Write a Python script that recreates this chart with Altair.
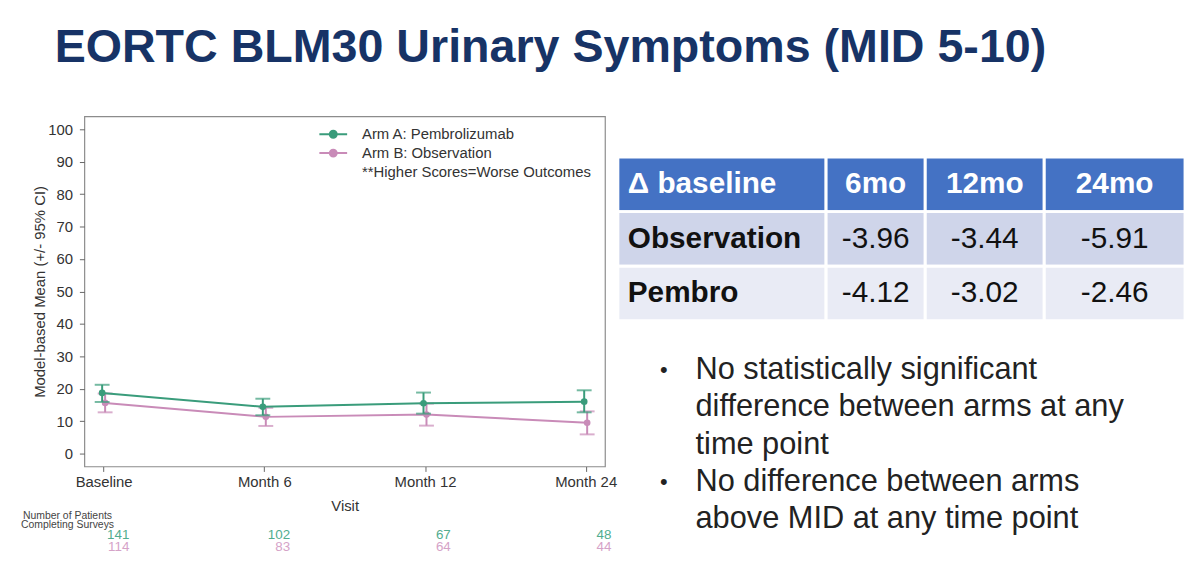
import altair as alt
import pandas as pd

FONT = "Liberation Sans"

# ---------------- data ----------------
visits = ["Baseline", "Month 6", "Month 12", "Month 24"]
arm_a = "Arm A: Pembrolizumab"
arm_b = "Arm B: Observation"
note = "**Higher Scores=Worse Outcomes"

a_mean = [18.7, 14.4, 15.5, 16.0]
a_lo = [15.9, 11.8, 12.3, 12.7]
a_hi = [21.2, 16.9, 18.8, 19.5]

b_mean = [15.6, 11.3, 12.0, 9.5]
b_lo = [12.7, 8.5, 8.6, 5.9]
b_hi = [18.5, 14.1, 15.4, 13.0]

counts_a = [141, 102, 67, 48]
counts_b = [114, 83, 64, 44]

table_cols = ["Δ baseline", "6mo", "12mo", "24mo"]
table_rows = ["Observation", "Pembro"]
obs_vals = ["-3.96", "-3.44", "-5.91"]
pem_vals = ["-4.12", "-3.02", "-2.46"]

bullet_lines = [
    "No statistically significant",
    "difference between arms at any",
    "time point",
    "No difference between arms",
    "above MID at any time point",
]
bullet_starts = [True, False, False, True, False]

title_text = "EORTC BLM30 Urinary Symptoms (MID 5-10)"

# ---------------- styles ----------------
GREEN = "#3a9c7b"
PINK = "#c98bb8"
GREEN_T = "#52ad8f"
PINK_T = "#d5a3c8"
NAVY = "#173366"
col_widths = [210, 100, 120, 142]

# ---------------- main plot ----------------
rows = []
for arm, m, lo, hi in [(arm_a, a_mean, a_lo, a_hi), (arm_b, b_mean, b_lo, b_hi)]:
    for v, mm, l, h in zip(visits, m, lo, hi):
        rows.append(dict(visit=v, arm=arm, mean=mm, lo=l, hi=h))
df = pd.DataFrame(rows)

xscale = alt.Scale(type="point", domain=visits, padding=0.12)
xaxis = alt.Axis(title="Visit", labelAngle=0, tickSize=5, labelPadding=3,
                 titlePadding=9, labelFontSize=15, titleFontSize=15)
yscale = alt.Scale(domain=[-4, 104], nice=False, zero=False)
yaxis = alt.Axis(title="Model-based Mean (+/- 95% CI)", values=list(range(0, 101, 10)),
                 tickSize=5, labelPadding=7, titlePadding=0,
                 labelFontSize=15, titleFontSize=15)
X = alt.X("visit:N", sort=visits, scale=xscale, axis=xaxis)

legend_path = "M-2,0L2,0M-0.5,0A0.5,0.5,0,1,1,0.5,0A0.5,0.5,0,1,1,-0.5,0Z"
fill_sig = (f"datum.value === '{arm_a}' ? '{GREEN}' : "
            f"(datum.value === '{arm_b}' ? '{PINK}' : 'transparent')")
legend = alt.Legend(
    title=None, orient="none", legendX=243, legendY=10,
    symbolType=legend_path, symbolSize=196, symbolStrokeWidth=2,
    symbolFillColor={"expr": fill_sig},
    labelFont=FONT, labelFontSize=15, labelColor="#333333", labelOffset=21,
    rowPadding=3, padding=0, labelLimit=400,
)
cscale = alt.Scale(domain=[arm_a, arm_b, note], range=[GREEN, PINK, "transparent"])


def arm_layers(arm, color, off):
    base = alt.Chart(df).transform_filter(alt.datum.arm == arm)
    rule = base.mark_rule(color=color, strokeWidth=2, xOffset=off).encode(
        x=X, y=alt.Y("lo:Q", scale=yscale, axis=yaxis), y2="hi:Q")
    cap_lo = base.mark_tick(color=color, size=15, thickness=2, xOffset=off).encode(
        x=X, y=alt.Y("lo:Q", scale=yscale, axis=yaxis))
    cap_hi = base.mark_tick(color=color, size=15, thickness=2, xOffset=off).encode(
        x=X, y=alt.Y("hi:Q", scale=yscale, axis=yaxis))
    line = base.mark_line(strokeWidth=2, xOffset=off).encode(
        x=X, y=alt.Y("mean:Q", scale=yscale, axis=yaxis),
        color=alt.Color("arm:N", scale=cscale, legend=legend))
    pts = base.mark_circle(color=color, size=45, opacity=1, xOffset=off).encode(
        x=X, y=alt.Y("mean:Q", scale=yscale, axis=yaxis))
    return [rule, cap_lo, cap_hi, line, pts]


main = alt.layer(*arm_layers(arm_b, PINK, 1.5), *arm_layers(arm_a, GREEN, -1.5)).properties(
    width=525, height=353,
    view=alt.ViewBackground(stroke="#8c8c8c", strokeWidth=1.2),
)

# ---------------- counts ----------------
crow = []
for arm, ns in [(arm_a, counts_a), (arm_b, counts_b)]:
    for v, n in zip(visits, ns):
        crow.append(dict(visit=v, arm=arm, n=n))
cdf = pd.DataFrame(crow)


def count_layer(arm, color):
    return alt.Chart(cdf).transform_filter(alt.datum.arm == arm).mark_text(
        color=color, align="right", dx=26, fontSize=13.5, font=FONT, baseline="middle"
    ).encode(
        x=alt.X("visit:N", sort=visits, scale=xscale, axis=None),
        y=alt.Y("arm:N", scale=alt.Scale(domain=[arm_a, arm_b]), axis=None),
        text="n:Q",
    )


counts = alt.layer(count_layer(arm_a, GREEN_T), count_layer(arm_b, PINK_T)).properties(
    width=525, height=24,
    title=alt.TitleParams(["Number of Patients", "Completing Surveys"], anchor="start",
                          align="center", dx=-17, fontSize=10.5, font=FONT,
                          color="#444444", fontWeight="normal", lineHeight=10,
                          offset=-13, baseline="bottom"),
)

left_col = alt.vconcat(main, counts, spacing=63, bounds="flush")

# ---------------- table ----------------
row_ids = ["header"] + table_rows
cells = []
edges = [0]
for w in col_widths:
    edges.append(edges[-1] + w)
for r, rid in enumerate(row_ids):
    for c in range(4):
        if rid == "header":
            txt = table_cols[c]
        elif c == 0:
            txt = rid
        else:
            txt = (obs_vals if rid == "Observation" else pem_vals)[c - 1]
        cells.append(dict(row=rid, col=c, x0=edges[c], x1=edges[c + 1],
                          xc=(edges[c] + edges[c + 1]) / 2, label=txt))
tdf = pd.DataFrame(cells)

TX = alt.Scale(domain=[0, edges[-1]], nice=False, zero=False)
# rows pushed to the bottom of a 206px view: 41px empty band on top, 3 rows of 55px
TY = alt.Y("row:N", sort=row_ids,
           scale=alt.Scale(domain=row_ids, paddingInner=0, paddingOuter=0.37273, align=1),
           axis=None)
tbase = alt.Chart(tdf)
fills = {"header": "#4472c4", "Observation": "#cfd5ea", "Pembro": "#e9ebf5"}
tlayers = []
for rid in row_ids:
    tlayers.append(tbase.transform_filter(alt.datum.row == rid).mark_rect(
        fill=fills[rid], stroke="white", strokeWidth=3).encode(
        x=alt.X("x0:Q", scale=TX, axis=None), x2="x1:Q", y=TY))
tlayers.append(tbase.transform_filter("datum.row == 'header' && datum.col == 0").mark_text(
    align="left", dx=10, color="white", fontWeight="bold", fontSize=30, font=FONT).encode(
    x=alt.X("x0:Q", scale=TX, axis=None), y=TY, text="label:N"))
tlayers.append(tbase.transform_filter("datum.row == 'header' && datum.col > 0").mark_text(
    align="center", color="white", fontWeight="bold", fontSize=30, font=FONT).encode(
    x=alt.X("xc:Q", scale=TX, axis=None), y=TY, text="label:N"))
tlayers.append(tbase.transform_filter("datum.row != 'header' && datum.col == 0").mark_text(
    align="left", dx=10, color="#111111", fontWeight="bold", fontSize=30, font=FONT).encode(
    x=alt.X("x0:Q", scale=TX, axis=None), y=TY, text="label:N"))
tlayers.append(tbase.transform_filter("datum.row != 'header' && datum.col > 0").mark_text(
    align="center", color="#111111", fontSize=30, font=FONT).encode(
    x=alt.X("xc:Q", scale=TX, axis=None), y=TY, text="label:N"))
table = alt.layer(*tlayers).properties(width=edges[-1], height=206)

# ---------------- bullets ----------------
bdf = pd.DataFrame(dict(line=list(range(len(bullet_lines))), text=bullet_lines, start=bullet_starts))
# indent level 0 = bullet marker, 1 = bullet text
BX = alt.Scale(domain=[-1.45, 2.46], nice=False, zero=False)
BY = alt.Y("line:O", scale=alt.Scale(paddingInner=0, paddingOuter=0), axis=None)
bul_dot = alt.Chart(bdf).transform_filter(alt.datum.start).transform_calculate(
    level="0", mark="'•'").mark_text(
    align="center", fontSize=22, font=FONT, color="#222222").encode(
    x=alt.X("level:Q", scale=BX, axis=None), y=BY, text="mark:N")
bul_txt = alt.Chart(bdf).transform_calculate(level="1").mark_text(
    align="left", fontSize=31, font=FONT, color="#222222").encode(
    x=alt.X("level:Q", scale=BX, axis=None), y=BY, text="text:N")
bullets = alt.layer(bul_dot, bul_txt).properties(width=125, height=188)

right_col = alt.vconcat(table, bullets, spacing=31, bounds="flush")

chart = alt.hconcat(left_col, right_col, spacing=-7).properties(
    title=alt.TitleParams(title_text, anchor="start", dx=34, fontSize=47, font=FONT,
                          fontWeight="bold", color=NAVY, offset=44),
    padding={"left": 13, "top": 14, "right": 5, "bottom": 5},
    background="white",
).configure_view(stroke=None).configure_axis(
    labelFont=FONT, titleFont=FONT, labelColor="#333333", titleColor="#333333",
    titleFontWeight="normal", tickColor="#666666", domain=False, grid=False,
).resolve_scale(color="shared")

chart.save("out.html", embed_options={"renderer": "svg", "actions": False})
